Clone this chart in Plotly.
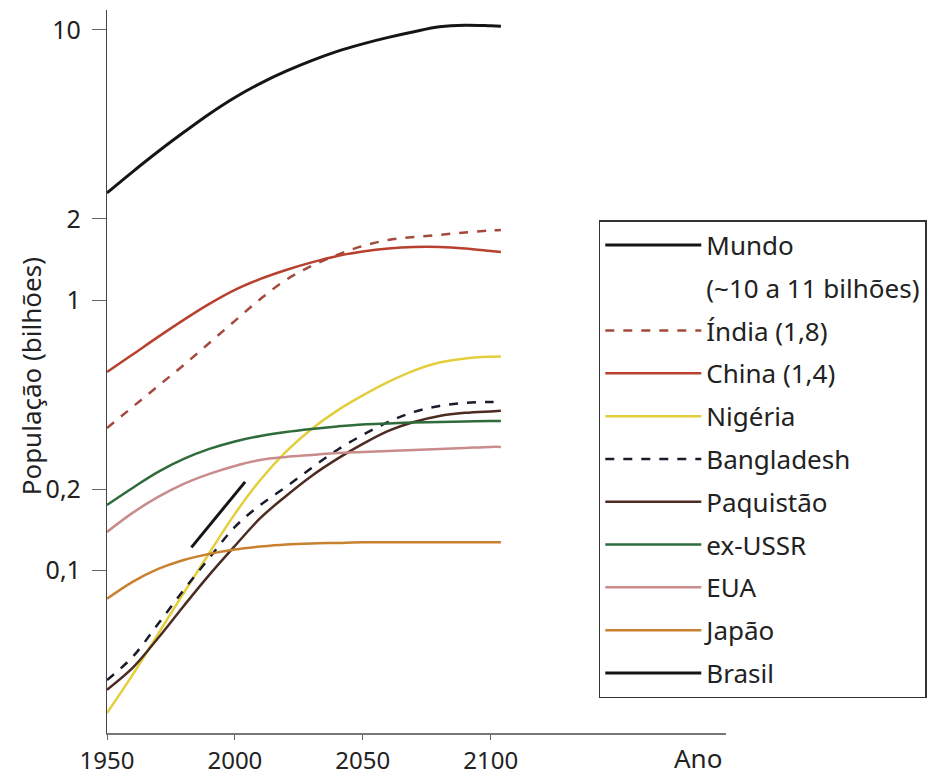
import plotly.graph_objects as go

# population (billions), every 10 years
anos = [1950, 1960, 1970, 1980, 1990, 2000, 2010, 2020, 2030, 2040,
        2050, 2060, 2070, 2080, 2090, 2100, 2104]

mundo = [2.493, 2.984, 3.546, 4.176, 4.884, 5.620, 6.337, 7.025, 7.689, 8.315,
         8.866, 9.370, 9.833, 10.25, 10.39, 10.34, 10.31]
india = [0.337, 0.403, 0.482, 0.576, 0.695, 0.839, 1.011, 1.189, 1.339, 1.471,
         1.587, 1.671, 1.714, 1.744, 1.781, 1.811, 1.819]
china = [0.543, 0.630, 0.732, 0.846, 0.969, 1.092, 1.199, 1.294, 1.380, 1.458,
         1.515, 1.554, 1.574, 1.574, 1.554, 1.521, 1.508]
nigeria = [0.0298, 0.0412, 0.0584, 0.0828, 0.1163, 0.1622, 0.2168, 0.2754, 0.3342, 0.3908,
           0.4446, 0.4989, 0.5495, 0.5888, 0.6095, 0.6180, 0.6194]
bangladesh = [0.0394, 0.0480, 0.0636, 0.0849, 0.1115, 0.1452, 0.1751, 0.2041, 0.2399, 0.2796,
              0.3177, 0.3548, 0.3864, 0.4066, 0.4171, 0.4207, 0.4207]
paquistao = [0.0363, 0.0437, 0.0564, 0.0741, 0.0965, 0.1235, 0.1567, 0.1890, 0.2241, 0.2590,
             0.2943, 0.3288, 0.3548, 0.3734, 0.3833, 0.3882, 0.3899]
ex_ussr = [0.1751, 0.2023, 0.2318, 0.2590, 0.2820, 0.3006, 0.3150, 0.3259, 0.3344, 0.3416,
           0.3475, 0.3504, 0.3533, 0.3548, 0.3563, 0.3579, 0.3579]
eua = [0.1391, 0.1636, 0.1874, 0.2094, 0.2280, 0.2440, 0.2567, 0.2634, 0.2679, 0.2725,
       0.2749, 0.2772, 0.2796, 0.2820, 0.2844, 0.2869, 0.2869]
japao = [0.0787, 0.0909, 0.1015, 0.1096, 0.1154, 0.1199, 0.1229, 0.1251, 0.1262, 0.1267,
         0.1273, 0.1273, 0.1273, 0.1273, 0.1273, 0.1273, 0.1273]

brasil_anos = [1983, 2004]
brasil = [0.122, 0.213]

series = [
    ('Mundo', anos, mundo, '#151515', 'solid', 3),
    ('(~10 a 11 bilhões)', [None], [None], 'rgba(0,0,0,0)', 'solid', 1),
    ('Índia (1,8)', anos, india, '#a34a3c', 'dash', 2.5),
    ('China (1,4)', anos, china, '#b8402e', 'solid', 2.5),
    ('Nigéria', anos, nigeria, '#e3cf3c', 'solid', 2.5),
    ('Bangladesh', anos, bangladesh, '#1b1b2b', 'dash', 2.5),
    ('Paquistão', anos, paquistao, '#4b2b22', 'solid', 2.5),
    ('ex-USSR', anos, ex_ussr, '#2f6b3b', 'solid', 2.5),
    ('EUA', anos, eua, '#c98c8a', 'solid', 2.5),
    ('Japão', anos, japao, '#c8812e', 'solid', 2.5),
    ('Brasil', brasil_anos, brasil, '#151515', 'solid', 3),
]

fig = go.Figure()
for i, (nome, xs, ys, cor, traco, larg) in enumerate(series):
    fig.add_trace(go.Scatter(
        x=xs, y=ys, name=nome, mode='lines', legendgroup=str(i),
        line=dict(color=cor, dash=traco, width=larg,
                  shape='linear' if nome == 'Brasil' else 'spline'),
    ))

# page body adds an 8px margin, so the figure is shifted to fit the window
fonte = 'Noto Sans'
fig.update_layout(
    width=921, height=769,
    margin=dict(l=99, r=199, t=2, b=44),
    paper_bgcolor='white', plot_bgcolor='white',
    font=dict(family=fonte, color='#222'),
    showlegend=True,
    legend=dict(
        x=0.7945, y=0.7095, xanchor='left', yanchor='top',
        bordercolor='#333', borderwidth=1.5, bgcolor='white',
        font=dict(size=26, family=fonte, color='#222'),
        traceorder='grouped', tracegroupgap=6, itemwidth=96,
    ),
    xaxis=dict(
        range=[1950, 2192], tickvals=[1950, 2000, 2050, 2100],
        ticks='outside', ticklen=5, tickcolor='#666',
        showline=True, linecolor='#777', linewidth=1.5,
        showgrid=False, zeroline=False, automargin=False,
        tickfont=dict(size=24),
    ),
    yaxis=dict(
        type='log', range=[-1.6, 1.073],
        tickvals=[0.1, 0.2, 1, 2, 10], ticktext=['0,1', '0,2', '1', '2', '10'],
        ticks='outside', ticklen=14, tickcolor='#666', ticklabelstandoff=6,
        showline=True, linecolor='#444', linewidth=1.2,
        showgrid=False, zeroline=False, automargin=False,
        tickfont=dict(size=25),
    ),
    annotations=[
        dict(text='População (bilhões)', xref='paper', yref='paper',
             x=-0.1236, y=0.494, textangle=-90, showarrow=False,
             xanchor='center', yanchor='middle', font=dict(size=26)),
        dict(text='Ano', xref='paper', yref='paper', x=0.955, y=-0.0346,
             showarrow=False, xanchor='center', yanchor='middle',
             font=dict(size=26)),
    ],
)

fig.write_html('out.html')
